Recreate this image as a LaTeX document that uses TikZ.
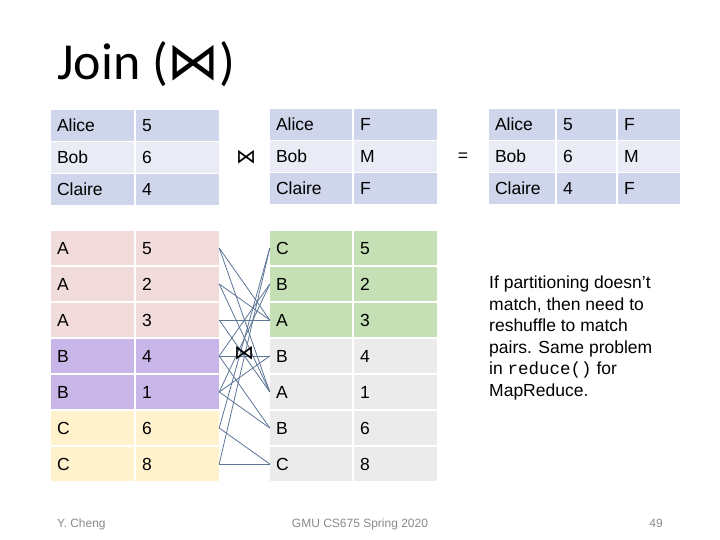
\documentclass[tikz,border=0pt]{standalone}
\usepackage{fontspec}
\setmainfont{Liberation Sans}
\setmonofont{Liberation Mono}
\newfontfamily\titlefont{Carlito}
\newfontfamily\symfont{DejaVu Sans}
\usetikzlibrary{positioning}

\definecolor{hdrblue}{RGB}{207,213,234}
\definecolor{rowblue}{RGB}{233,235,245}
\definecolor{keyA}{RGB}{242,220,219}
\definecolor{keyB}{RGB}{200,182,232}
\definecolor{keyC}{RGB}{255,242,204}
\definecolor{rowgreen}{RGB}{197,224,180}
\definecolor{rowgray}{RGB}{235,235,235}
\definecolor{linkline}{RGB}{92,116,150}
\definecolor{footgray}{RGB}{137,137,137}

\begin{document}
\begin{tikzpicture}[x=1pt, y=-1pt,
    cell/.style={rectangle, fill=#1, inner xsep=6pt, inner ysep=0pt,
                 minimum height=30.5pt, text height=12.2pt, text depth=0pt,
                 align=left, font=\fontsize{17.5}{21}\selectfont},
    tallcell/.style={cell=#1, minimum height=34pt},
    link/.style={draw=linkline, line width=0.8pt},
    foot/.style={font=\fontsize{12}{14}\selectfont, text=footgray, inner sep=0pt}
]
    \useasboundingbox (0,0) rectangle (720,540);

    \node[anchor=base west, inner sep=0pt, font=\titlefont\fontsize{52}{60}\selectfont]
        (title) at (57,80) {Join ({\symfont ⋈})};

    % first relation: name, age
    \foreach \who/\age/\shade [count=\r] in {Alice/5/hdrblue, Bob/6/rowblue, Claire/4/hdrblue} {
        \node[cell=\shade, text width=71pt] (ta\r) at (92.5, 93.5+32*\r) {\who};
        \node[cell=\shade, text width=71pt] (tb\r) at (177.5, 93.5+32*\r) {\age};
    }
    % second relation: name, sex
    \foreach \who/\sex/\shade [count=\r] in {Alice/F/hdrblue, Bob/M/rowblue, Claire/F/hdrblue} {
        \node[cell=\shade, text width=70pt] (sa\r) at (311, 92.5+32*\r) {\who};
        \node[cell=\shade, text width=71pt] (sb\r) at (395.5, 92.5+32*\r) {\sex};
    }
    % result
    \foreach \who/\age/\sex/\shade [count=\r] in {Alice/5/F/hdrblue, Bob/6/M/rowblue, Claire/4/F/hdrblue} {
        \node[cell=\shade, text width=54pt] (ra\r) at (522, 92.5+32*\r) {\who};
        \node[cell=\shade, text width=47pt] (rb\r) at (586.5, 92.5+32*\r) {\age};
        \node[cell=\shade, text width=50pt] (rc\r) at (649, 92.5+32*\r) {\sex};
    }
    \node[font=\symfont\fontsize{20}{24}\selectfont] (join1) at (246,157) {⋈};
    \node[font=\fontsize{17.5}{21}\selectfont] (eq) at (463,157) {=};

    % partitioned inputs
    \foreach \key/\val/\shade [count=\r] in {A/5/keyA, A/2/keyA, A/3/keyA, B/4/keyB, B/1/keyB, C/6/keyC, C/8/keyC} {
        \node[tallcell=\shade, text width=71pt] (la\r) at (92.5, 212+36*\r) {\key};
        \node[tallcell=\shade, text width=71pt] (lb\r) at (177.5, 212+36*\r) {\val};
    }
    \foreach \key/\val/\shade [count=\r] in {C/5/rowgreen, B/2/rowgreen, A/3/rowgreen, B/4/rowgray, A/1/rowgray, B/6/rowgray, C/8/rowgray} {
        \node[tallcell=\shade, text width=70pt] (ka\r) at (311, 212+36*\r) {\key};
        \node[tallcell=\shade, text width=71pt] (kb\r) at (395.5, 212+36*\r) {\val};
    }
    % every matching pair
    \foreach \i/\j in {1/3,1/5,2/3,2/5,3/3,3/5,4/2,4/4,4/6,5/2,5/4,5/6,6/1,6/7,7/1,7/7}
        \draw[link] (lb\i.east) -- (ka\j.west);
    \node[font=\symfont\fontsize{20}{24}\selectfont] (join2) at (244,353) {⋈};

    \node[anchor=north west, inner sep=0pt, align=left,
          font=\fontsize{17.5}{21.5}\selectfont] (note) at (489,276)
        {If partitioning doesn’t\\match, then need to\\reshuffle to match\\pairs. Same problem\\in \texttt{reduce()} for\\MapReduce.};

    \node[foot, anchor=base west] (author) at (57,527) {Y. Cheng};
    \node[foot, anchor=base] (course) at (360,527) {GMU CS675 Spring 2020};
    \node[foot, anchor=base east] (page) at (663,527) {49};
\end{tikzpicture}
\end{document}
